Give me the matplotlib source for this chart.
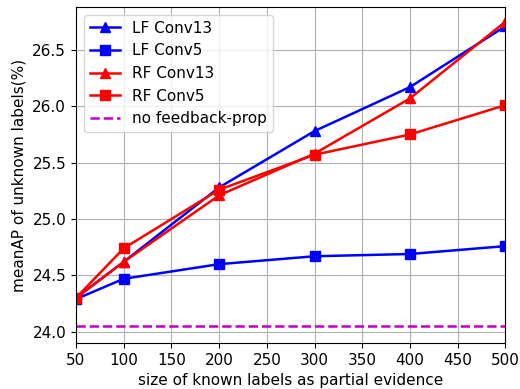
import matplotlib
matplotlib.use("Agg")
import matplotlib.pyplot as plt

x = [50, 100, 200, 300, 400, 500]
lf_conv13 = [24.30, 24.62, 25.28, 25.78, 26.17, 26.71]
lf_conv5 = [24.29, 24.47, 24.60, 24.67, 24.69, 24.76]
rf_conv13 = [24.30, 24.62, 25.21, 25.58, 26.07, 26.75]
rf_conv5 = [24.30, 24.74, 25.26, 25.57, 25.75, 26.01]
no_feedback = 24.05

plt.rcParams['font.size'] = 11
fig, ax = plt.subplots(figsize=(5.2, 3.89), dpi=100)
ax.plot(x, lf_conv13, 'b-^', lw=1.8, ms=7, label='LF Conv13')
ax.plot(x, lf_conv5, 'b-s', lw=1.8, ms=7, label='LF Conv5')
ax.plot(x, rf_conv13, 'r-^', lw=1.8, ms=7, label='RF Conv13')
ax.plot(x, rf_conv5, 'r-s', lw=1.8, ms=7, label='RF Conv5')
ax.axhline(no_feedback, color='m', ls='--', lw=1.8, label='no feedback-prop')
ax.set_xlim(50, 500)
ax.set_ylim(23.9, 26.88)
ax.set_xticks(range(50, 501, 50))
ax.set_yticks([24.0, 24.5, 25.0, 25.5, 26.0, 26.5])
ax.grid(True)
ax.set_xlabel('size of known labels as partial evidence')
ax.set_ylabel('meanAP of unknown labels(%)')
ax.legend(loc='upper left')
fig.subplots_adjust(left=0.146, right=0.972, top=0.982, bottom=0.118)
fig.savefig('out.png')
